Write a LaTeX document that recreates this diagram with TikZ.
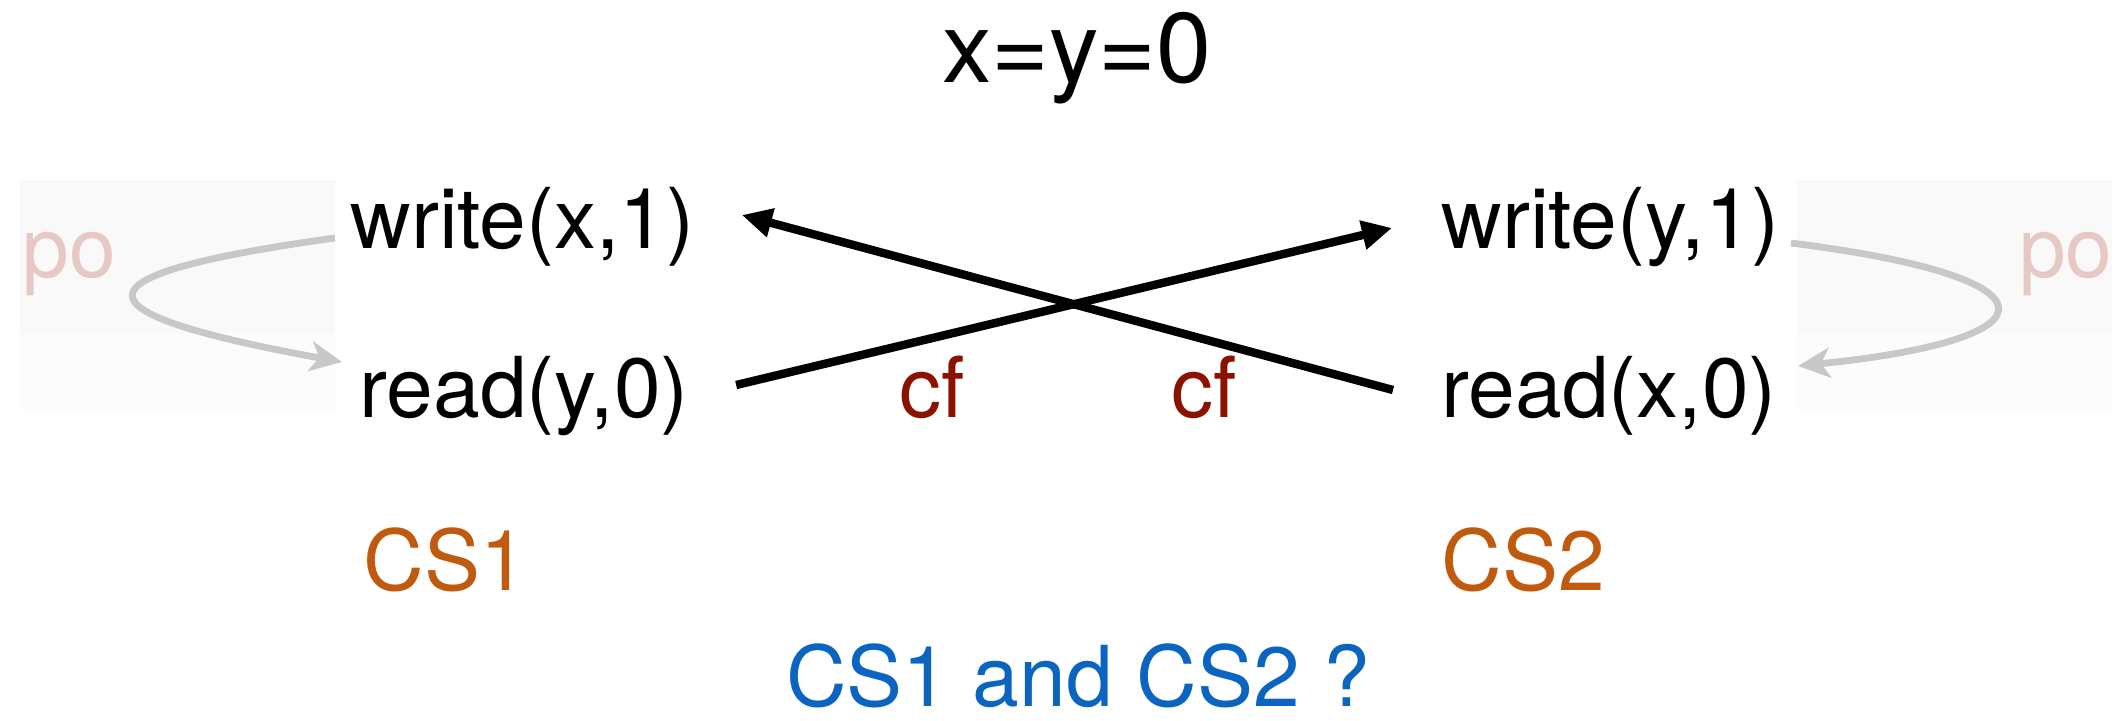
\documentclass[tikz,border=0pt]{standalone}
\usepackage{fontspec}
\setmainfont{TeX Gyre Heros}
\usetikzlibrary{arrows.meta}
\definecolor{cfred}{HTML}{8B1200}
\definecolor{csorange}{HTML}{C05A0E}
\definecolor{qblue}{HTML}{0A64C0}
\definecolor{popink}{HTML}{E6C8C4}
\definecolor{pogray}{HTML}{C8C8C8}
\definecolor{shadeA}{HTML}{F9F9F9}
\definecolor{shadeB}{HTML}{FCFCFC}
\begin{document}
\begin{tikzpicture}[x=0.5pt,y=-0.5pt,
  txt/.style={inner sep=0pt,font=\fontsize{42}{50}\selectfont},
  evt/.style={txt,anchor=base west,text=black},
  cflbl/.style={txt,anchor=base,text=cfred},
  cslbl/.style={txt,anchor=base west,text=csorange},
  polbl/.style={txt,text=popink},
  cfarrow/.style={draw=black,line width=4.2pt,-{Triangle[length=15pt,width=14pt]}},
  poarrow/.style={draw=pogray,line width=3.4pt,-{Stealth[length=16pt,width=15pt,inset=4.5pt]}}
]
\useasboundingbox (0,0) rectangle (2126,720);
% shaded panels
\fill[shadeB] (20,180) rectangle (335,410);
\fill[shadeA] (20,180) rectangle (335,333);
\fill[shadeB] (1797,180) rectangle (2112,410);
\fill[shadeA] (1797,180) rectangle (2112,333);
% title
\node[inner sep=0pt,anchor=base,font=\fontsize{49.5}{58}\selectfont] (title) at (1077,82) {x=y=0};
% events
\node[evt] (wrx) at (350,248) {write(x,1)};
\node[evt] (rdy) at (359,417) {read(y,0)};
\node[evt] (wry) at (1441,248) {write(y,1)};
\node[evt] (rdx) at (1441,417) {read(x,0)};
% labels
\node[cflbl] (cf1) at (932,417) {cf};
\node[cflbl] (cf2) at (1204,417) {cf};
\node[cslbl] (cs1) at (363,590) {CS1};
\node[cslbl] (cs2) at (1441,590) {CS2};
\node[polbl,anchor=base west] (po1) at (22,277) {po};
\node[polbl,anchor=base east] (po2) at (2113,277) {po};
\node[txt,anchor=base,text=qblue] (q) at (1078,706) {CS1 and CS2 ?};
% cf arrows
\draw[cfarrow] ([shift={(47,-32)}]rdy.base east) -- ([shift={(-49,-20)}]wry.base west);
\draw[cfarrow] ([shift={(-48,-27)}]rdx.base west) -- ([shift={(47,-33)}]wrx.base east);
% po arrows
\draw[poarrow] ([shift={(-15,-10)}]wrx.base west) .. controls (67,275) and (67,312) .. ([shift={(-17,-55)}]rdy.base west);
\draw[poarrow] ([shift={(11,-5)}]wry.base east) .. controls (2063,277) and (2063,339) .. ([shift={(21,-51)}]rdx.base east);
\end{tikzpicture}
\end{document}
